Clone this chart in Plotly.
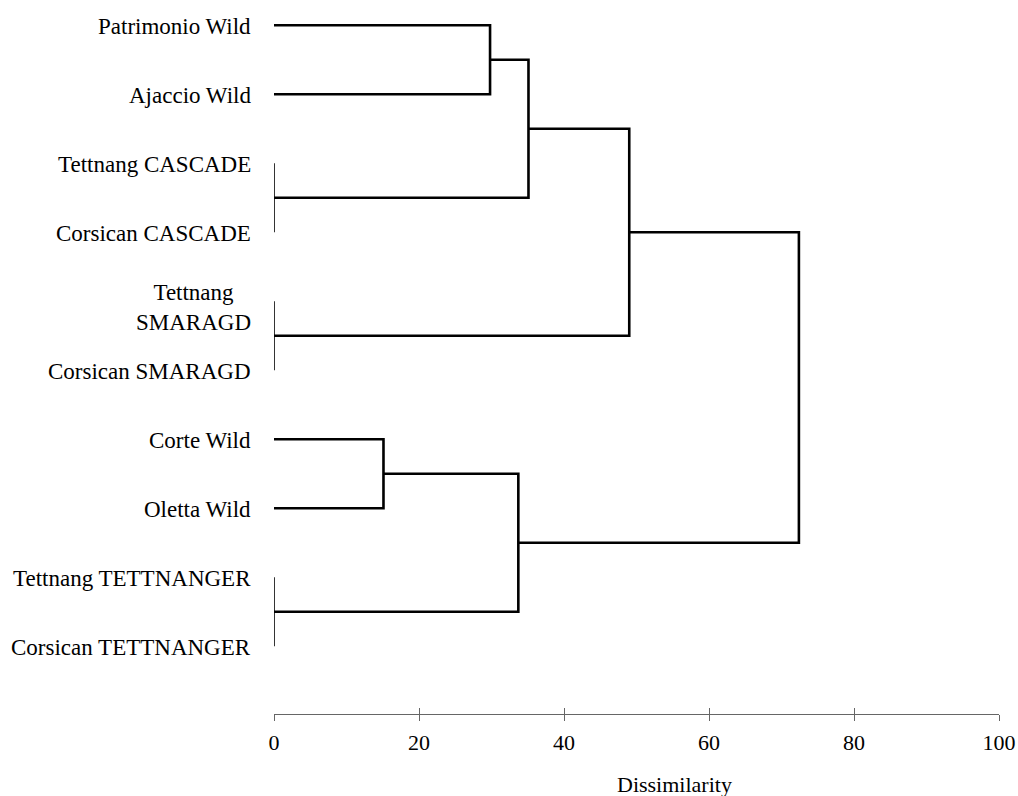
import plotly.graph_objects as go

# Leaf labels (top to bottom)
leaf_labels = [
    "Patrimonio Wild",
    "Ajaccio Wild",
    "Tettnang CASCADE",
    "Corsican CASCADE",
    "Tettnang<br>SMARAGD",
    "Corsican SMARAGD",
    "Corte Wild",
    "Oletta Wild",
    "Tettnang TETTNANGER",
    "Corsican TETTNANGER",
]

# Linkage (scipy style): nodes 10.. are created in order
merge_left = [0, 2, 10, 4, 12, 6, 8, 15, 14]
merge_right = [1, 3, 11, 5, 13, 7, 9, 16, 17]
merge_height = [29.8, 0.0, 35.1, 0.0, 49.0, 15.1, 0.0, 33.7, 72.4]

x_ticks = [0, 20, 40, 60, 80, 100]
x_title = "Dissimilarity"

FONT = "Liberation Serif, Times New Roman, serif"

n = len(leaf_labels)
pos = {i: float(i) for i in range(n)}
hgt = {i: 0.0 for i in range(n)}

thick_x, thick_y, thin_x, thin_y = [], [], [], []
for k, (a, b, h) in enumerate(zip(merge_left, merge_right, merge_height)):
    node = n + k
    xs = [hgt[a], h, h, hgt[b], None]
    ys = [pos[a], pos[a], pos[b], pos[b], None]
    if h == 0:
        thin_x += xs
        thin_y += ys
    else:
        thick_x += xs
        thick_y += ys
    pos[node] = (pos[a] + pos[b]) / 2
    hgt[node] = h

fig = go.Figure()
fig.add_trace(go.Scatter(x=thin_x, y=thin_y, mode="lines",
                         line=dict(color="black", width=1.6),
                         hoverinfo="skip", showlegend=False))
fig.add_trace(go.Scatter(x=thick_x, y=thick_y, mode="lines",
                         line=dict(color="black", width=2.6),
                         hoverinfo="skip", showlegend=False))

for i, lab in enumerate(leaf_labels):
    fig.add_annotation(x=0, y=i, xref="x", yref="y", text=lab,
                       showarrow=False, xanchor="right", yanchor="middle",
                       align="center", xshift=-21,
                       yshift=-6 if "<br>" in lab else -1,
                       font=dict(family=FONT, size=23, color="black"))

fig.add_annotation(x=0.553, y=-0.0994, xref="paper", yref="paper",
                   text=x_title, showarrow=False,
                   xanchor="center", yanchor="middle",
                   font=dict(family=FONT, size=22, color="black"))

fig.update_layout(
    width=1018, height=796,
    margin=dict(l=274, r=19, t=0, b=82),
    paper_bgcolor="white", plot_bgcolor="white",
    xaxis=dict(range=[0, 100], tickvals=x_ticks, ticks="outside", ticklen=6,
               tickcolor="#666666", tickwidth=1.2,
               showline=True, linecolor="#666666", linewidth=1.3,
               showgrid=False, zeroline=False, ticklabelstandoff=2,
               tickfont=dict(family=FONT, size=22, color="black")),
    xaxis2=dict(range=[0, 100], tickvals=x_ticks, ticks="inside", ticklen=6,
                tickcolor="#666666", tickwidth=1.2, overlaying="x",
                side="bottom", anchor="y", matches="x",
                showline=False, showgrid=False, zeroline=False,
                showticklabels=False),
    yaxis=dict(range=[9.981, -0.367], visible=False, showgrid=False,
               zeroline=False),
)
# invisible trace to activate the inner-tick overlay axis
fig.add_trace(go.Scatter(x=[0], y=[0], xaxis="x2", mode="markers",
                         marker=dict(opacity=0), hoverinfo="skip",
                         showlegend=False))

fig.write_html("out.html",
               config={"displayModeBar": False},
               post_script="document.body.style.margin='0';"
                           "document.body.style.overflow='hidden';")
